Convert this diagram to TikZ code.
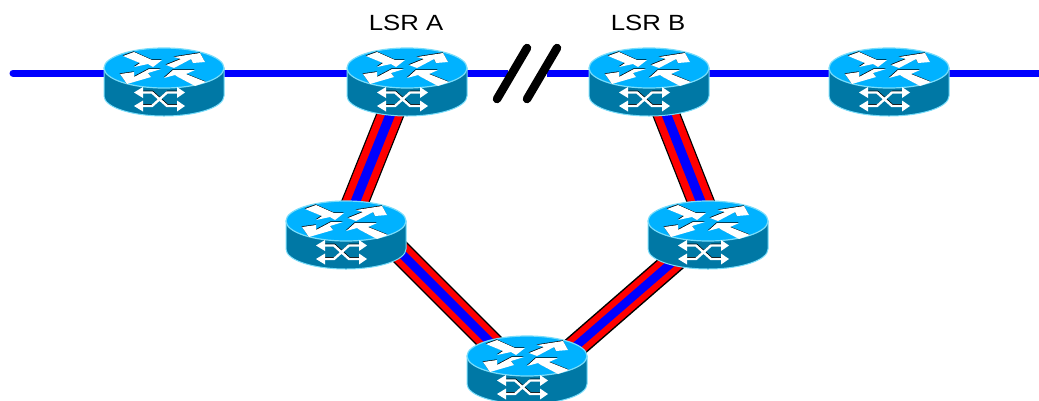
\documentclass[tikz,border=0pt]{standalone}
\usepackage{fontspec}
\setmainfont{Liberation Sans}
\usetikzlibrary{calc}
\definecolor{rtop}{RGB}{0,178,255}
\definecolor{rside}{RGB}{0,120,165}
\definecolor{redge}{RGB}{120,220,250}
\newcommand{\tlarrow}{(-41,-12) -- (-30,-16) -- (-12,-8) -- (-2,-8) -- (-11,-1) -- (-16,-4) -- (-30,-1) -- (-24,-5) -- cycle}
\newcommand{\trarrow}{(2,-3) -- (17,-9) -- (10,-11) -- (36,-15) -- (41,-6) -- (29,-5) -- (27,-9) -- (10,0) -- cycle}
\newcommand{\blarrow}{(-44,6) -- (-37,16) -- (-13,9) -- (-16,5) -- (-3,1) -- (-15,1) -- (-30,9) -- (-30,4) -- cycle}
\newcommand{\brarrow}{(0,10) -- (9,2) -- (31,2) -- (22,6) -- (42,14) -- (31,18) -- (14,9) -- (11,7) -- cycle}
\tikzset{
 x=1pt,y=-1pt,
 anchorpt/.style={inner sep=0pt,minimum size=0pt},
 singlelink/.style={draw=blue,line width=7pt},
 slash/.style={draw=black,line width=8.5pt,line cap=round},
 lbl/.style={font=\fontsize{22}{24}\selectfont,inner sep=0pt},
 router/.pic={
  \path[fill=rside,draw=redge,line width=1pt] (-60,0) -- (-60,28) arc[start angle=180,end angle=0,x radius=60,y radius=20] -- (60,0) -- cycle;
  \path[fill=rtop,draw=redge,line width=1.2pt] (0,0) ellipse[x radius=60,y radius=20];
  \begin{scope}[xshift=-.4pt,yshift=.6pt]
   \path[fill=black] \tlarrow; \path[fill=black] \trarrow; \path[fill=black] \blarrow; \path[fill=black] \brarrow;
  \end{scope}
  \path[fill=white] \tlarrow; \path[fill=white] \trarrow; \path[fill=white] \blarrow; \path[fill=white] \brarrow;
  \path[draw=black,line width=1pt,xshift=.6pt,yshift=1.4pt] (-23,24.5) -- (-12,24.5) -- (3,38) -- (15,38) (-23,38) -- (-12,38) -- (3,24.5) -- (15,24.5);
  \path[draw=white,line width=2.4pt] (-23,24.5) -- (-12,24.5) -- (3,38) -- (15,38) (-23,38) -- (-12,38) -- (3,24.5) -- (15,24.5);
  \path[fill=white] (-30,24.5) -- (-21,19) -- (-21,30) -- cycle (21,24.5) -- (13,19) -- (13,30) -- cycle
    (-30,38) -- (-21,32.5) -- (-21,43.5) -- cycle (21,38) -- (13,32.5) -- (13,43.5) -- cycle;
 }
}
\newcommand{\triplelink}[5]{%
 \draw[draw=black,line width=#3pt] (#1) -- (#2);
 \draw[draw=red,line width=#4pt] (#1) -- (#2);
 \draw[draw=blue,line width=#5pt] (#1) -- (#2);
}
\begin{document}
\begin{tikzpicture}
\useasboundingbox (0,0) rectangle (1039,400);
\node[anchorpt] (r1) at (164,68) {};
\node[anchorpt] (ra) at (407,68) {};
\node[anchorpt] (rb) at (649,68) {};
\node[anchorpt] (r4) at (889,68) {};
\node[anchorpt] (rc) at (346,221) {};
\node[anchorpt] (rd) at (708,221) {};
\node[anchorpt] (re) at (527,356) {};
\coordinate (w) at (13,73);
\coordinate (ee) at (1039,73);
\coordinate (bl) at (508,73);
\coordinate (br) at (547,73);
\coordinate (s1a) at (497,99);
\coordinate (s1b) at (527,48);
\coordinate (s2a) at (527,99);
\coordinate (s2b) at (557,48);
\draw[singlelink,line cap=round] (w) -- (ra|-w);
\draw[singlelink] (ra|-w) -- (bl);
\draw[singlelink] (br) -- (ee);
\triplelink{$(ra)+(0,5)$}{$(rc)+(0,4)$}{27}{24.5}{9.5}
\triplelink{$(rb)+(1,5)$}{$(rd)+(2,4)$}{27}{24.5}{9.5}
\triplelink{$(rc)+(29,6)$}{$(re)+(-17,6)$}{24}{21}{8.5}
\triplelink{$(rd)+(-25,32)$}{$(re)+(30,6.5)$}{24}{21}{8.5}
\draw[slash] (s1a) -- (s1b);
\draw[slash] (s2a) -- (s2b);
\foreach \r in {r1,ra,rb,r4,rc,rd,re}{ \pic at (\r) {router}; }
\node[lbl] (la) at (406,22.5) {\scalebox{1.17}[1]{LSR A}};
\node[lbl] (lb) at (648,22.5) {\scalebox{1.17}[1]{LSR B}};
\end{tikzpicture}
\end{document}
